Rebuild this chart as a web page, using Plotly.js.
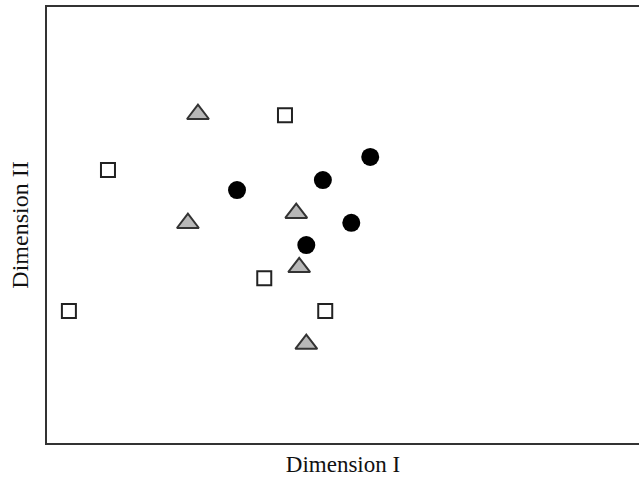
<!DOCTYPE html>
<html>
<head>
<meta charset="utf-8">
<script src="https://cdn.plot.ly/plotly-3.0.1.min.js"></script>
<style>html,body{margin:0;padding:0;background:#fff;}#chart{width:639px;height:479px;}</style>
</head>
<body>
<div id="chart"></div>
<script>
// Group A: grey triangles
const triX = [25.5, 23.8, 42.1, 42.6, 43.8];
const triY = [75.4, 50.4, 52.7, 40.3, 22.7];
// Group B: open squares
const sqX = [40.2, 10.3, 36.7, 3.7, 47.0];
const sqY = [75.2, 62.6, 37.8, 30.3, 30.3];
// Group C: black circles
const cirX = [54.6, 32.1, 46.6, 51.4, 43.8];
const cirY = [65.6, 58.0, 60.3, 50.5, 45.4];

const traces = [
  {x: triX, y: triY, mode: 'markers', type: 'scatter',
   marker: {symbol: 'triangle-up', size: 19, color: '#b8b8b8', line: {color: '#333', width: 2}}},
  {x: sqX, y: sqY, mode: 'markers', type: 'scatter',
   marker: {symbol: 'square', size: 14, color: '#fff', line: {color: '#222', width: 2}}},
  {x: cirX, y: cirY, mode: 'markers', type: 'scatter',
   marker: {symbol: 'circle', size: 18, color: '#000', line: {width: 0}}}
];

const layout = {
  width: 639, height: 479,
  margin: {l: 47, r: 0, t: 7, b: 36},
  showlegend: false,
  paper_bgcolor: '#fff', plot_bgcolor: '#fff',
  font: {family: '"Liberation Serif", "Times New Roman", serif', color: '#111'},
  xaxis: {range: [0, 100], showgrid: false, zeroline: false, showticklabels: false, ticks: '',
          showline: true, mirror: true, linecolor: '#333', linewidth: 2,
          title: {text: 'Dimension I', font: {size: 23, color: '#111'}, standoff: 12}},
  yaxis: {range: [0, 100], showgrid: false, zeroline: false, showticklabels: false, ticks: '',
          showline: true, linecolor: '#333', linewidth: 2,
          title: {text: 'Dimension II', font: {size: 24, color: '#111'}, standoff: 10}}
};

Plotly.newPlot('chart', traces, layout, {displayModeBar: false});
</script>
</body>
</html>
